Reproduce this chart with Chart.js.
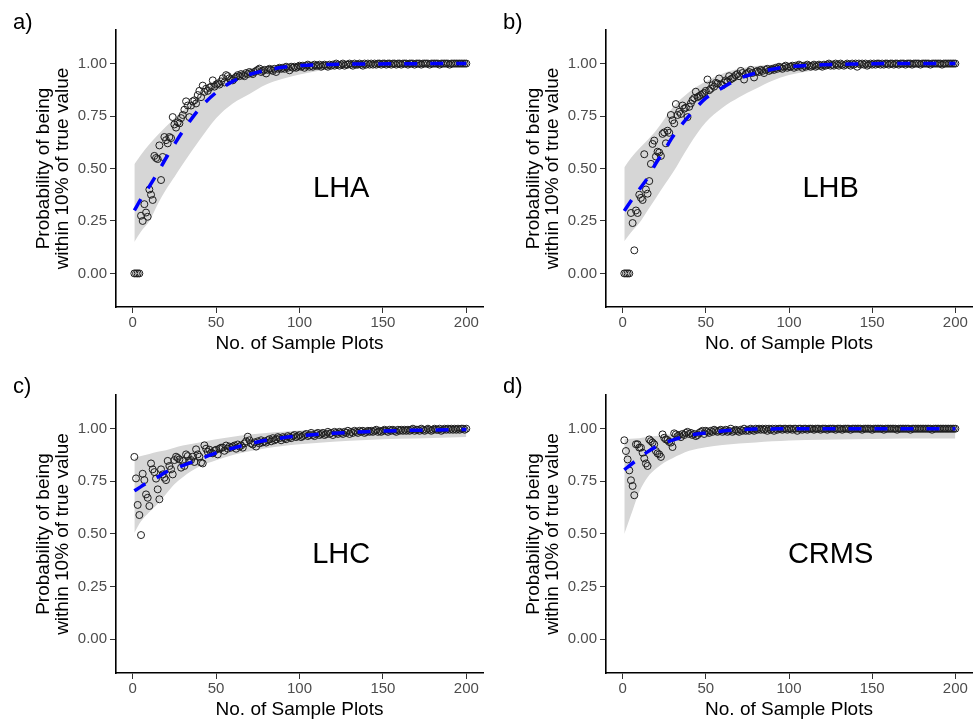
<!DOCTYPE html>
<html>
<head>
<meta charset="utf-8">
<script src="https://cdn.jsdelivr.net/npm/chart.js@4/dist/chart.umd.min.js"></script>
<style>
html, body { margin: 0; padding: 0; background: #ffffff; }
#wrap { position: relative; width: 977px; height: 720px; overflow: hidden; background: #ffffff; }
.panel { position: absolute; }
.panel canvas { display: block; }
</style>
</head>
<body>
<div id="wrap">
  <div class="panel" style="left:0px;top:0px"><canvas id="cA" width="488" height="360"></canvas></div>
  <div class="panel" style="left:490px;top:0px"><canvas id="cB" width="487" height="360"></canvas></div>
  <div class="panel" style="left:0px;top:360px"><canvas id="cC" width="488" height="360"></canvas></div>
  <div class="panel" style="left:490px;top:360px"><canvas id="cD" width="487" height="360"></canvas></div>
</div>
<script>
const FONT = "'Liberation Sans', Arial, Helvetica, sans-serif";

// x categories: number of sample plots
const sampleSizes = Array.from({ length: 200 }, (_, i) => i + 1);
const xTicks = [0, 50, 100, 150, 200];
const yTicks = [0, 0.25, 0.5, 0.75, 1];
const panelNames = ['LHA', 'LHB', 'LHC', 'CRMS'];
const panelTags = ['a)', 'b)', 'c)', 'd)'];
const xTitle = 'No. of Sample Plots';
const yTitle = ['Probability of being', 'within 10% of true value'];

// observed probabilities (x = 1..200)
const lhaProb = [
  0, 0, 0, 0, 0.275, 0.25, 0.33, 0.29, 0.27, 0.40,
  0.375, 0.35, 0.56, 0.55, 0.545, 0.61, 0.445, 0.555, 0.65, 0.635,
  0.62, 0.65, 0.645, 0.745, 0.71, 0.695, 0.72, 0.715, 0.74, 0.755,
  0.78, 0.82, 0.80, 0.745, 0.80, 0.82, 0.825, 0.81, 0.85, 0.87,
  0.84, 0.895, 0.865, 0.88, 0.87, 0.885, 0.89, 0.92, 0.89, 0.90,
  0.905, 0.90, 0.915, 0.93, 0.91, 0.945, 0.94, 0.93, 0.925, 0.92,
  0.93, 0.937, 0.945, 0.94, 0.95, 0.945, 0.94, 0.955, 0.95, 0.96,
  0.955, 0.95, 0.96, 0.965, 0.97, 0.976, 0.96, 0.965, 0.97, 0.953,
  0.97, 0.975, 0.97, 0.965, 0.975, 0.96, 0.975, 0.98, 0.975, 0.98,
  0.975, 0.985, 0.98, 0.968, 0.985, 0.98, 0.985, 0.98, 0.985, 0.99,
  0.985, 0.99, 0.98, 0.99, 0.995, 0.985, 0.99, 0.985, 0.995, 0.99,
  0.99, 0.995, 0.985, 0.99, 0.995, 0.99, 0.985, 0.995, 0.99, 0.995,
  0.99, 1, 0.995, 0.99, 0.995, 1, 0.99, 0.995, 0.995, 1,
  0.995, 0.99, 1, 0.995, 0.995, 1, 0.995, 0.99, 1, 0.995,
  1, 0.995, 1, 0.995, 1, 0.995, 1, 1, 0.995, 1,
  1, 0.995, 1, 1, 0.995, 1, 1, 0.995, 1, 1,
  0.995, 1, 1, 1, 0.995, 1, 1, 1, 0.995, 1,
  1, 1, 0.995, 1, 1, 1, 1, 0.995, 1, 1,
  1, 1, 1, 0.995, 1, 1, 1, 1, 1, 0.995,
  1, 1, 1, 1, 1, 1, 1, 1, 1, 1
];
const lhbProb = [
  0, 0, 0, 0, 0.288, 0.24, 0.11, 0.30, 0.288, 0.375,
  0.36, 0.35, 0.568, 0.40, 0.38, 0.44, 0.522, 0.617, 0.633, 0.557,
  0.58, 0.576, 0.56, 0.665, 0.672, 0.62, 0.68, 0.67, 0.755, 0.73,
  0.715, 0.807, 0.755, 0.77, 0.76, 0.80, 0.785, 0.79, 0.745, 0.794,
  0.81, 0.826, 0.835, 0.866, 0.84, 0.845, 0.85, 0.855, 0.86, 0.87,
  0.924, 0.873, 0.88, 0.897, 0.89, 0.908, 0.905, 0.929, 0.90, 0.897,
  0.91, 0.92, 0.915, 0.94, 0.925, 0.93, 0.935, 0.945, 0.95, 0.94,
  0.965, 0.955, 0.924, 0.95, 0.955, 0.96, 0.97, 0.955, 0.934, 0.96,
  0.965, 0.96, 0.97, 0.965, 0.955, 0.97, 0.975, 0.965, 0.97, 0.975,
  0.97, 0.98, 0.975, 0.985, 0.98, 0.975, 0.985, 0.99, 0.98, 0.985,
  0.985, 0.99, 0.98, 0.99, 0.985, 0.995, 0.99, 0.98, 0.99, 0.985,
  0.995, 0.99, 0.985, 0.99, 0.995, 0.985, 0.99, 0.995, 0.99, 0.985,
  0.995, 0.99, 0.995, 1, 0.99, 0.995, 0.99, 1, 0.995, 0.99,
  1, 0.995, 0.99, 0.995, 1, 0.995, 0.99, 1, 0.995, 1,
  0.985, 1, 0.995, 1, 0.995, 1, 0.99, 0.995, 1, 0.995,
  1, 0.995, 1, 1, 0.995, 1, 0.995, 1, 1, 0.995,
  1, 1, 0.995, 1, 1, 0.995, 1, 1, 1, 0.995,
  1, 1, 1, 0.995, 1, 1, 1, 1, 0.995, 1,
  1, 1, 1, 1, 0.995, 1, 1, 1, 1, 1,
  1, 0.995, 1, 1, 1, 1, 1, 1, 1, 1
];
const lhcProb = [
  0.866, 0.764, 0.638, 0.59, 0.495, 0.786, 0.756, 0.688, 0.672, 0.633,
  0.835, 0.807, 0.794, 0.763, 0.712, 0.665, 0.807, 0.783, 0.767, 0.756,
  0.847, 0.823, 0.807, 0.783, 0.851, 0.867, 0.861, 0.854, 0.815, 0.847,
  0.823, 0.878, 0.87, 0.847, 0.851, 0.867, 0.842, 0.902, 0.878, 0.867,
  0.839, 0.835, 0.921, 0.905, 0.89, 0.90, 0.885, 0.883, 0.895, 0.90,
  0.878, 0.905, 0.91, 0.91, 0.895, 0.92, 0.905, 0.915, 0.91, 0.915,
  0.92, 0.905, 0.925, 0.915, 0.92, 0.91, 0.93, 0.94, 0.962, 0.945,
  0.93, 0.925, 0.935, 0.915, 0.94, 0.93, 0.945, 0.935, 0.94, 0.934,
  0.945, 0.95, 0.94, 0.955, 0.945, 0.95, 0.96, 0.955, 0.945, 0.96,
  0.955, 0.95, 0.965, 0.96, 0.955, 0.965, 0.97, 0.96, 0.965, 0.97,
  0.96, 0.965, 0.97, 0.975, 0.965, 0.97, 0.98, 0.97, 0.965, 0.975,
  0.98, 0.97, 0.975, 0.98, 0.97, 0.975, 0.985, 0.975, 0.98, 0.97,
  0.985, 0.98, 0.975, 0.985, 0.98, 0.975, 0.985, 0.98, 0.99, 0.975,
  0.985, 0.98, 0.99, 0.985, 0.98, 0.99, 0.985, 0.99, 0.98, 0.985,
  0.99, 0.985, 0.99, 0.985, 0.99, 0.995, 0.985, 0.99, 0.985, 0.99,
  0.995, 0.99, 0.985, 0.995, 0.99, 0.995, 0.99, 0.985, 0.995, 0.99,
  0.995, 0.99, 0.995, 0.99, 0.995, 0.99, 0.995, 1, 0.99, 0.995,
  0.995, 0.99, 1, 0.995, 0.99, 0.995, 1, 0.995, 0.99, 0.995,
  1, 0.995, 0.995, 1, 0.99, 0.995, 1, 0.995, 1, 0.995,
  1, 0.995, 1, 0.995, 1, 0.995, 1, 1, 0.995, 1
];
const crmsProb = [
  0.945, 0.894, 0.854, 0.802, 0.755, 0.728, 0.684, 0.926, 0.926, 0.91,
  0.91, 0.886, 0.859, 0.835, 0.823, 0.949, 0.941, 0.934, 0.926, 0.894,
  0.883, 0.878, 0.866, 0.973, 0.957, 0.949, 0.946, 0.937, 0.934, 0.913,
  0.978, 0.973, 0.965, 0.97, 0.96, 0.975, 0.97, 0.98, 0.985, 0.975,
  0.98, 0.97, 0.975, 0.965, 0.97, 0.98, 0.985, 0.99, 0.975, 0.99,
  0.985, 0.98, 0.99, 0.985, 0.995, 0.99, 0.985, 0.99, 0.995, 0.985,
  0.99, 0.995, 0.985, 0.99, 1, 0.985, 0.99, 0.995, 0.99, 0.985,
  0.995, 0.99, 1, 0.99, 0.995, 0.99, 1, 0.995, 0.99, 1,
  0.995, 1, 0.995, 1, 0.995, 1, 0.99, 1, 0.995, 1,
  0.99, 1, 0.995, 1, 1, 0.995, 1, 1, 0.995, 1,
  1, 0.995, 1, 1, 0.99, 1, 1, 0.995, 1, 1,
  0.995, 1, 1, 1, 0.995, 1, 1, 1, 0.995, 1,
  1, 1, 0.995, 1, 1, 1, 1, 0.995, 1, 1,
  1, 0.995, 1, 1, 1, 1, 0.995, 1, 1, 1,
  1, 1, 1, 0.995, 1, 1, 1, 1, 1, 0.995,
  1, 1, 1, 1, 1, 1, 0.995, 1, 1, 1,
  1, 1, 1, 1, 0.995, 1, 1, 1, 1, 1,
  1, 1, 0.995, 1, 1, 1, 1, 1, 1, 1,
  1, 1, 1, 1, 1, 0.995, 1, 1, 1, 1,
  1, 1, 1, 1, 1, 1, 1, 1, 1, 1
];

// fitted curve and confidence band, read at these x values
const curveX = [1, 5, 10, 15, 20, 25, 30, 40, 50, 60, 70, 80, 90, 100, 120, 140, 160, 180, 200];
const lhaFit   = [0.30, 0.355, 0.415, 0.48, 0.55, 0.615, 0.677, 0.785, 0.862, 0.915, 0.948, 0.968, 0.982, 0.99, 0.996, 0.998, 0.999, 1.0, 1.0];
const lhaUpper = [0.52, 0.565, 0.615, 0.66, 0.70, 0.74, 0.775, 0.845, 0.905, 0.945, 0.972, 0.988, 0.995, 0.999, 1.0, 1.0, 1.0, 1.0, 1.0];
const lhaLower = [0.15, 0.20, 0.25, 0.33, 0.40, 0.46, 0.52, 0.635, 0.74, 0.81, 0.855, 0.90, 0.928, 0.948, 0.975, 0.988, 0.995, 0.998, 0.999];
const lhbFit   = [0.298, 0.345, 0.40, 0.455, 0.525, 0.585, 0.65, 0.752, 0.835, 0.885, 0.928, 0.955, 0.973, 0.985, 0.994, 0.998, 1.0, 1.0, 1.0];
const lhbUpper = [0.505, 0.55, 0.595, 0.636, 0.68, 0.735, 0.79, 0.865, 0.915, 0.952, 0.975, 0.988, 0.995, 0.998, 1.0, 1.0, 1.0, 1.0, 1.0];
const lhbLower = [0.153, 0.195, 0.24, 0.30, 0.36, 0.42, 0.478, 0.61, 0.72, 0.79, 0.84, 0.88, 0.918, 0.945, 0.972, 0.986, 0.993, 0.997, 0.999];
const lhcFit   = [0.705, 0.725, 0.75, 0.77, 0.795, 0.81, 0.825, 0.855, 0.885, 0.908, 0.928, 0.945, 0.957, 0.966, 0.978, 0.986, 0.991, 0.994, 0.996];
const lhcUpper = [0.86, 0.87, 0.88, 0.89, 0.898, 0.91, 0.92, 0.935, 0.95, 0.962, 0.972, 0.98, 0.986, 0.992, 0.998, 1.0, 1.0, 1.0, 1.0];
const lhcLower = [0.505, 0.56, 0.605, 0.643, 0.69, 0.736, 0.77, 0.82, 0.85, 0.875, 0.893, 0.907, 0.918, 0.926, 0.938, 0.946, 0.952, 0.956, 0.96];
const crmsFit   = [0.805, 0.83, 0.86, 0.89, 0.914, 0.932, 0.946, 0.968, 0.98, 0.989, 0.995, 0.998, 0.999, 1.0, 1.0, 1.0, 1.0, 1.0, 1.0];
const crmsUpper = [0.95, 0.952, 0.955, 0.96, 0.965, 0.97, 0.975, 0.985, 0.992, 1.0, 1.005, 1.01, 1.012, 1.012, 1.012, 1.012, 1.012, 1.012, 1.012];
const crmsLower = [0.50, 0.59, 0.70, 0.77, 0.81, 0.84, 0.86, 0.895, 0.912, 0.922, 0.93, 0.935, 0.94, 0.944, 0.948, 0.95, 0.952, 0.953, 0.954];

const panelText = {
  id: 'panelText',
  afterDraw(chart, args, opts) {
    const ctx = chart.ctx;
    ctx.save();
    ctx.fillStyle = '#000000';
    ctx.textBaseline = 'middle';
    ctx.textAlign = 'left';
    ctx.font = '22px ' + FONT;
    ctx.fillText(opts.tag, opts.tagX, opts.tagY);
    ctx.textAlign = 'center';
    ctx.font = '29px ' + FONT;
    ctx.fillText(opts.name, chart.scales.x.getPixelForValue(125), chart.scales.y.getPixelForValue(0.4));
    ctx.restore();
  }
};

function pts(xs, ys) { return xs.map((x, i) => ({ x: x, y: ys[i] })); }

function makePanel(canvasId, idx, prob, fit, upper, lower, lay) {
  const axisBase = {
    grid: { drawOnChartArea: false, drawTicks: true, tickLength: 6, color: '#333333', lineWidth: 1 },
    border: { display: true, color: '#000000', width: 1.6 }
  };
  new Chart(document.getElementById(canvasId), {
    type: 'scatter',
    data: {
      datasets: [
        { type: 'line', data: pts(curveX, lower), borderColor: 'rgba(0,0,0,0)', borderWidth: 1, pointRadius: 0,
          fill: false, cubicInterpolationMode: 'monotone', order: 3 },
        { type: 'line', data: pts(curveX, upper), borderColor: 'rgba(0,0,0,0)', borderWidth: 1, pointRadius: 0,
          fill: '-1', backgroundColor: '#d6d6d6', cubicInterpolationMode: 'monotone', order: 2 },
        { type: 'scatter', data: pts(sampleSizes, prob), pointRadius: 3.5, pointBorderWidth: 1,
          pointBorderColor: '#1e1e1e', pointBackgroundColor: 'rgba(0,0,0,0)', order: 1 },
        { type: 'line', data: pts(curveX, fit), borderColor: '#0000ff', borderWidth: 3.5, borderDash: [13, 13],
          pointRadius: 0, fill: false, cubicInterpolationMode: 'monotone', order: 0 }
      ]
    },
    options: {
      responsive: false,
      animation: false,
      events: [],
      layout: { padding: { top: lay.top, right: lay.right, left: 0, bottom: 0 } },
      plugins: {
        legend: { display: false },
        tooltip: { enabled: false },
        panelText: { tag: panelTags[idx], name: panelNames[idx], tagX: 13, tagY: lay.tagY }
      },
      scales: {
        x: Object.assign({}, axisBase, {
          type: 'linear', min: -10, max: 210,
          afterBuildTicks: s => { s.ticks = xTicks.map(v => ({ value: v })); },
          afterFit: s => { s.height = lay.xh; },
          ticks: { color: '#4d4d4d', font: { family: FONT, size: 15 }, padding: 1, maxRotation: 0, autoSkip: false },
          title: { display: true, text: xTitle, color: '#000000', font: { family: FONT, size: 19, lineHeight: 1 },
                   padding: { top: 0, bottom: lay.xtb } }
        }),
        y: Object.assign({}, axisBase, {
          type: 'linear', min: -0.16, max: 1.16,
          afterBuildTicks: s => { s.ticks = yTicks.map(v => ({ value: v })); },
          afterFit: s => { s.width = 116; },
          ticks: { color: '#4d4d4d', font: { family: FONT, size: 15 }, padding: 3, callback: v => Number(v).toFixed(2) },
          title: { display: true, text: yTitle, color: '#000000', font: { family: FONT, size: 19, lineHeight: 0.97 },
                   padding: { top: 35, bottom: 0 } }
        })
      }
    },
    plugins: [panelText]
  });
}

makePanel('cA', 0, lhaProb, lhaFit, lhaUpper, lhaLower, { top: 30, right: 5, xh: 53, xtb: 7, tagY: 23 });
makePanel('cB', 1, lhbProb, lhbFit, lhbUpper, lhbLower, { top: 30, right: 4, xh: 53, xtb: 7, tagY: 23 });
makePanel('cC', 2, lhcProb, lhcFit, lhcUpper, lhcLower, { top: 35, right: 5, xh: 47, xtb: 1, tagY: 27 });
makePanel('cD', 3, crmsProb, crmsFit, crmsUpper, crmsLower, { top: 35, right: 4, xh: 47, xtb: 1, tagY: 27 });
</script>
</body>
</html>
